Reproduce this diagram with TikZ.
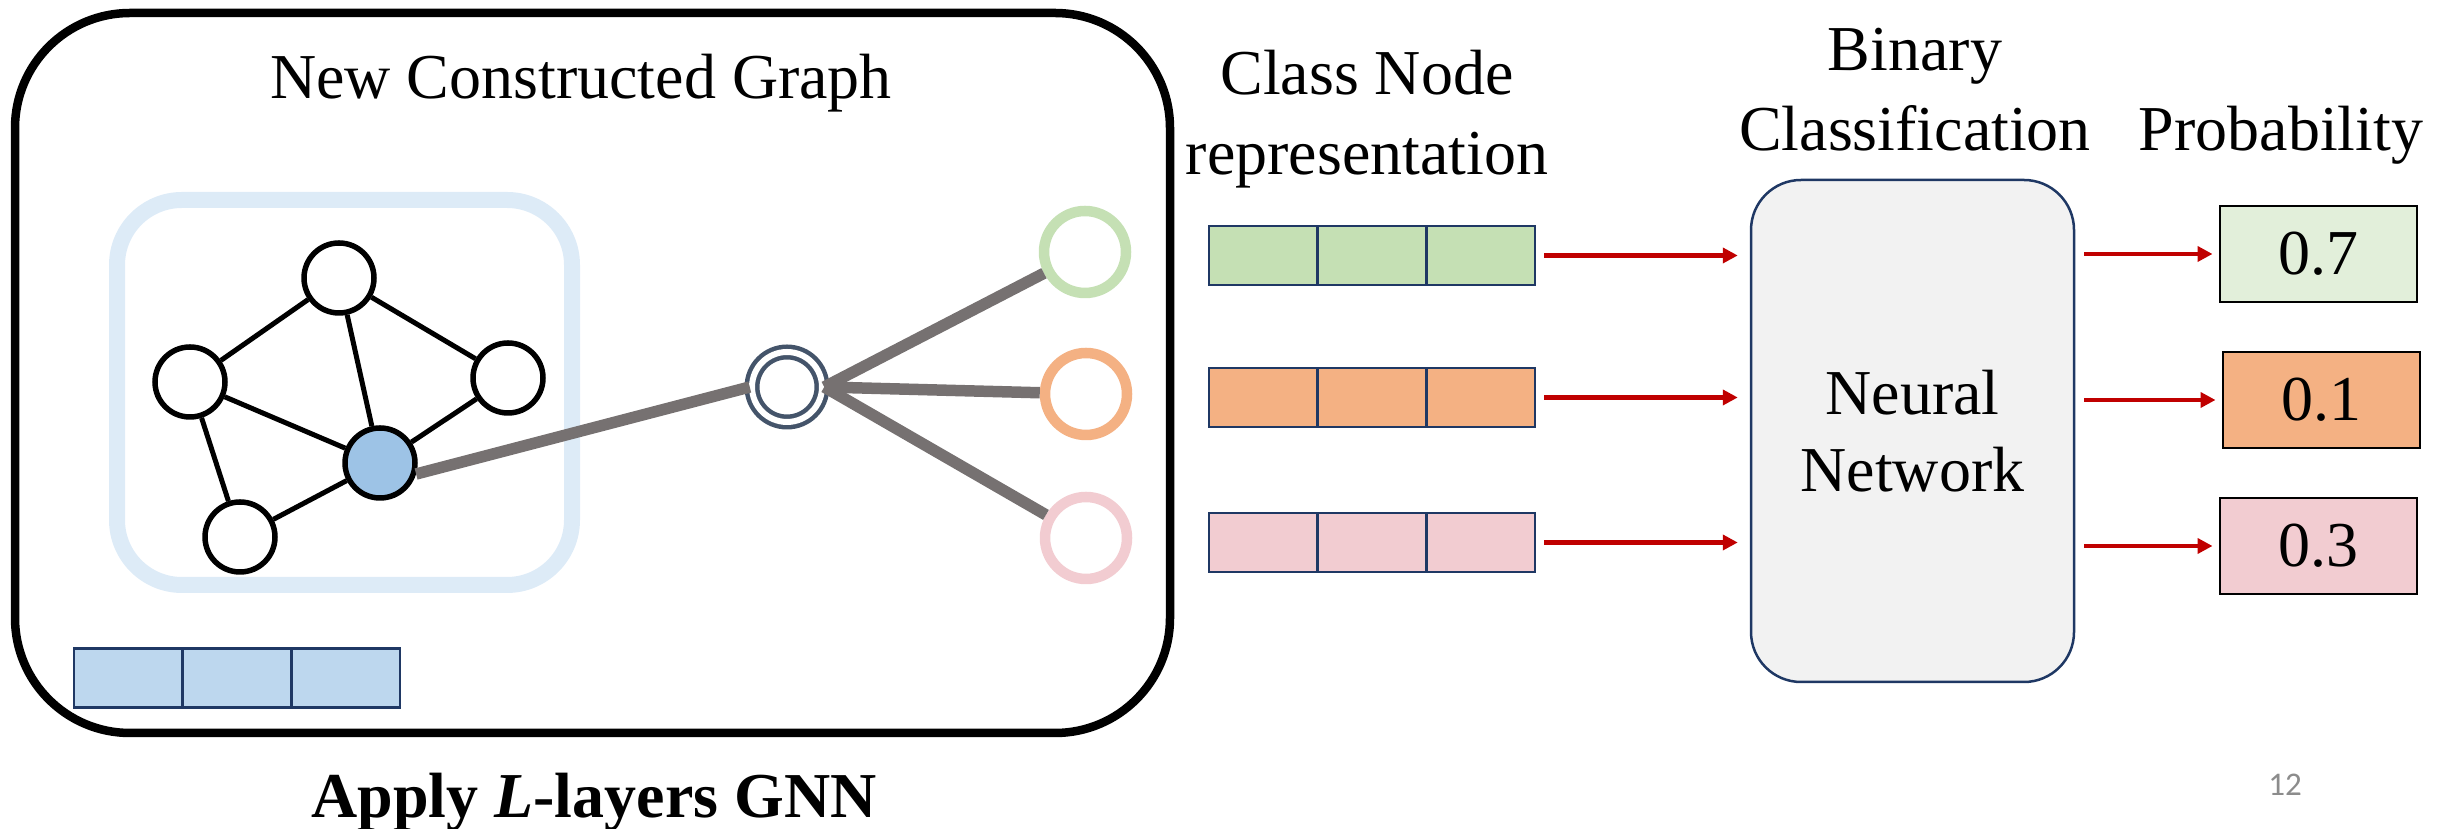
\documentclass[tikz,border=0pt]{standalone}
\usepackage{fontspec}
\setmainfont{Liberation Serif}
\newfontfamily\pagefont{Carlito}
\usepackage{tikz}
\usetikzlibrary{arrows.meta}

\definecolor{navy}{HTML}{1F3864}
\definecolor{hubgray}{HTML}{44546A}
\definecolor{linkgray}{HTML}{767171}
\definecolor{frameblue}{HTML}{DDEBF7}
\definecolor{nodeblue}{HTML}{9DC3E6}
\definecolor{vblue}{HTML}{BDD7EE}
\definecolor{vgreen}{HTML}{C5E0B4}
\definecolor{vorange}{HTML}{F4B183}
\definecolor{vpink}{HTML}{F2CCD1}
\definecolor{pgreen}{HTML}{E2EFDA}
\definecolor{nngray}{HTML}{F2F2F2}
\definecolor{darkred}{HTML}{C00000}
\definecolor{pagegray}{HTML}{8C8C8C}

\tikzstyle{lbl} = [inner sep=0, anchor=base, align=center, font=\fontsize{18.2}{22.8}\selectfont]
\tikzstyle{gnode} = [circle, minimum size=7mm, inner sep=0, line width=0.55mm, draw=black, fill=white]
\tikzstyle{gedge} = [line width=0.5mm]
\tikzstyle{hubnode} = [circle, minimum size=7mm, inner sep=0, line width=0.45mm, draw=hubgray, double=white, double distance=0.6mm]
\tikzstyle{ring} = [circle, minimum size=8.2mm, inner sep=0, line width=1.05mm, fill=white]
\tikzstyle{link} = [line width=1.15mm, draw=linkgray]
\tikzstyle{cell} = [rectangle, minimum width=10.87mm, minimum height=5.9mm, inner sep=0, line width=0.25mm, draw=navy]
\tikzstyle{nnbox} = [rectangle, rounded corners=5mm, minimum width=32.3mm, minimum height=50.2mm, line width=0.25mm, draw=navy, fill=nngray, align=center, font=\fontsize{18.2}{21.9}\selectfont]
\tikzstyle{pbox} = [rectangle, minimum width=19.7mm, minimum height=9.6mm, line width=0.2mm, draw=black, font=\fontsize{18.2}{22}\selectfont]
\tikzstyle{arrow} = [line width=0.45mm, draw=darkred, -{Triangle[length=1.5mm, width=1.5mm]}]

\begin{document}
\begin{tikzpicture}[x=0.1mm, y=-0.1mm, node distance=10.87mm]
\useasboundingbox (0,0) rectangle (2446,829);

% 外框
\draw [line width=0.85mm, rounded corners=11.5mm] (15,13) rectangle (1170,733);
\node (title) [lbl] at (581,99) {New Constructed Graph};
\draw [line width=1.6mm, draw=frameblue, rounded corners=6.5mm] (117,200) rectangle (572,585);

% 原图结点
\node (n1) [gnode] at (339,278) {};
\node (n2) [gnode] at (190,382) {};
\node (n3) [gnode] at (508,378) {};
\node (n4) [gnode] at (240,537) {};
\node (n5) [gnode, fill=nodeblue] at (380,463) {};
\draw [gedge] (n2) -- (n1);
\draw [gedge] (n1) -- (n3);
\draw [gedge] (n1) -- (n5);
\draw [gedge] (n2) -- (n5);
\draw [gedge] (n3) -- (n5);
\draw [gedge] (n2) -- (n4);
\draw [gedge] (n4) -- (n5);

% 类别结点
\node (hub) [hubnode] at (787,387) {};
\node (c1) [ring, draw=vgreen] at (1085,252) {};
\node (c2) [ring, draw=vorange] at (1086,394) {};
\node (c3) [ring, draw=vpink] at (1086,538) {};
\draw [link] (n5.-17) -- (hub.west);
\draw [link] (hub.east) -- (c1);
\draw [link] (hub.east) -- (c2);
\draw [link] (hub.east) -- (c3);

\node (b1) [cell, fill=vblue] at (128.35,678) {};
\node (b2) [cell, fill=vblue, right of=b1] {};
\node (b3) [cell, fill=vblue, right of=b2] {};
\node (gnn) [lbl, font=\fontsize{18.2}{22}\selectfont\bfseries] at (594,818) {Apply \textit{L}-layers GNN};

% 类别结点表示
\node (lab1) [lbl] at (1367,175) {Class Node\\representation};
\node (vg1) [cell, fill=vgreen] at (1263.35,255.5) {};
\node (vg2) [cell, fill=vgreen, right of=vg1] {};
\node (vg3) [cell, fill=vgreen, right of=vg2] {};
\node (vo1) [cell, fill=vorange] at (1263.35,397.5) {};
\node (vo2) [cell, fill=vorange, right of=vo1] {};
\node (vo3) [cell, fill=vorange, right of=vo2] {};
\node (vp1) [cell, fill=vpink] at (1263.35,542.5) {};
\node (vp2) [cell, fill=vpink, right of=vp1] {};
\node (vp3) [cell, fill=vpink, right of=vp2] {};

% 二分类
\node (lab2) [lbl] at (1915,151) {Binary\\Classification};
\node (nn) [nnbox] at (1912.5,431) {Neural\\Network};
\node (lab3) [lbl] at (2281,151) {Probability};
\node (p1) [pbox, fill=pgreen] at (2318,254) {0.7};
\node (p2) [pbox, fill=vorange] at (2321,400) {0.1};
\node (p3) [pbox, fill=vpink] at (2318,546) {0.3};

% 箭头
\draw [arrow, shorten <=0.8mm, shorten >=1.2mm] (vg3.east) -- (nn.west |- vg3.east);
\draw [arrow, shorten <=0.8mm, shorten >=1.2mm] (vo3.east) -- (nn.west |- vo3.east);
\draw [arrow, shorten <=0.8mm, shorten >=1.2mm] (vp3.east) -- (nn.west |- vp3.east);
\draw [arrow, shorten <=0.9mm, shorten >=0.6mm] (nn.east |- p1) -- (p1);
\draw [arrow, shorten <=0.9mm, shorten >=0.6mm] (nn.east |- p2) -- (p2);
\draw [arrow, shorten <=0.9mm, shorten >=0.6mm] (nn.east |- p3) -- (p3);

\node (pg) [inner sep=0, anchor=base, text=pagegray, font=\pagefont\fontsize{9.4}{11}\selectfont] at (2285,796) {12};
\end{tikzpicture}
\end{document}
